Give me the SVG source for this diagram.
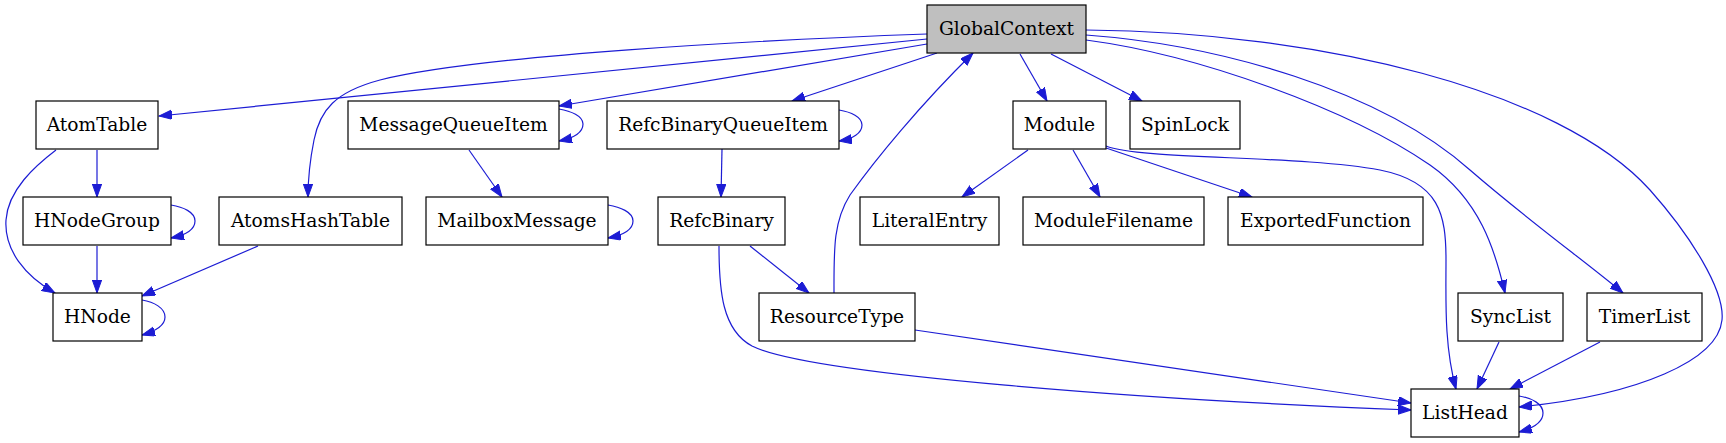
<svg xmlns="http://www.w3.org/2000/svg" width="1726" height="443" viewBox="0 0 1726 443">
<style>
.node rect{fill:#ffffff;stroke:#000000;stroke-width:1.2}
#GlobalContext rect{fill:#bfbfbf}
.node text{font-family:"DejaVu Serif",serif;font-size:18.67px;text-anchor:middle;fill:#000000}
.edges path{fill:none;stroke:#1c1cd4;stroke-width:1.2;marker-end:url(#ah)}
</style>
<defs>
<marker id="ah" markerUnits="userSpaceOnUse" markerWidth="14" markerHeight="10" refX="13" refY="4.67" orient="auto">
<path d="M0,0 L13,4.67 L0,9.33 z" fill="#1c1cd4" stroke="#1c1cd4" stroke-width="1"/>
</marker>
</defs>
<rect x="0" y="0" width="1726" height="443" fill="#ffffff"/>
<g class="edges">
<path d="M927,39 L159,116"/>
<path d="M927,34 C760,40 480,55 380,80 C335,92 320,110 314,140 C310,160 308,175 308,197"/>
<path d="M927,44 L559,106"/>
<path d="M937,53 L792,101"/>
<path d="M1020,54 L1047,101"/>
<path d="M1051,54 L1142,101"/>
<path d="M1086,40 C1200,55 1350,110 1430,165 C1480,200 1495,250 1505,293"/>
<path d="M1086,35 C1220,45 1380,90 1470,170 C1530,222 1590,265 1623,293"/>
<path d="M1086,30 C1320,32 1560,90 1650,190 C1690,235 1725,290 1722,320 C1718,360 1640,395 1519,407"/>
<path d="M1106,146 C1140,160 1300,155 1380,170 C1440,182 1446,215 1446,260 C1446,300 1444,345 1456,389"/>
<path d="M1028,150 L962,197"/>
<path d="M1073,150 L1100,197"/>
<path d="M1106,148 L1252,197"/>
<path d="M1499,342 L1477,389"/>
<path d="M1600,342 L1510,389"/>
<path d="M1519,396 C1532,398 1543,404 1543,413 C1543,422 1534,428 1519,432"/>
<path d="M915,330 L1411,403"/>
<path d="M719,246 C719,290 722,330 752,346 C810,375 1150,400 1411,410"/>
<path d="M750,246 L809,293"/>
<path d="M834,293 C834,250 833,222 850,195 C875,160 920,105 973,53"/>
<path d="M722,149 L721,197"/>
<path d="M839,110 C851,112 862,117 862,125 C862,133 853,139 839,141"/>
<path d="M559,109 C571,111 583,116 583,124 C583,132 574,138 559,141"/>
<path d="M469,150 L502,197"/>
<path d="M608,205 C620,207 633,212 633,221 C633,229 624,235 608,238"/>
<path d="M97,150 L97,197"/>
<path d="M56,150 C35,166 8,190 6,220 C4,250 25,276 55,293"/>
<path d="M171,205 C183,207 195,212 195,221 C195,229 186,235 171,238"/>
<path d="M97,246 L97,293"/>
<path d="M258,246 L142,296"/>
<path d="M142,300 C154,302 165,308 165,317 C165,325 156,331 142,335"/>
</g>
<g id="GlobalContext" class="node"><rect x="927" y="5" width="159" height="48"/><text x="1006.5" y="34.5">GlobalContext</text></g>
<g id="AtomTable" class="node"><rect x="36" y="101" width="122" height="48"/><text x="97" y="130.5">AtomTable</text></g>
<g id="MessageQueueItem" class="node"><rect x="348" y="101" width="211" height="48"/><text x="453.5" y="130.5">MessageQueueItem</text></g>
<g id="RefcBinaryQueueItem" class="node"><rect x="607" y="101" width="232" height="48"/><text x="723" y="130.5">RefcBinaryQueueItem</text></g>
<g id="Module" class="node"><rect x="1013" y="101" width="93" height="48"/><text x="1059.5" y="130.5">Module</text></g>
<g id="SpinLock" class="node"><rect x="1130" y="101" width="110" height="48"/><text x="1185" y="130.5">SpinLock</text></g>
<g id="HNodeGroup" class="node"><rect x="23" y="197" width="148" height="48"/><text x="97" y="226.5">HNodeGroup</text></g>
<g id="AtomsHashTable" class="node"><rect x="219" y="197" width="183" height="48"/><text x="310.5" y="226.5">AtomsHashTable</text></g>
<g id="MailboxMessage" class="node"><rect x="426" y="197" width="182" height="48"/><text x="517" y="226.5">MailboxMessage</text></g>
<g id="RefcBinary" class="node"><rect x="658" y="197" width="127" height="48"/><text x="721.5" y="226.5">RefcBinary</text></g>
<g id="LiteralEntry" class="node"><rect x="860" y="197" width="139" height="48"/><text x="929.5" y="226.5">LiteralEntry</text></g>
<g id="ModuleFilename" class="node"><rect x="1023" y="197" width="181" height="48"/><text x="1113.5" y="226.5">ModuleFilename</text></g>
<g id="ExportedFunction" class="node"><rect x="1228" y="197" width="195" height="48"/><text x="1325.5" y="226.5">ExportedFunction</text></g>
<g id="HNode" class="node"><rect x="53" y="293" width="89" height="48"/><text x="97.5" y="322.5">HNode</text></g>
<g id="ResourceType" class="node"><rect x="759" y="293" width="156" height="48"/><text x="837" y="322.5">ResourceType</text></g>
<g id="SyncList" class="node"><rect x="1458" y="293" width="105" height="48"/><text x="1510.5" y="322.5">SyncList</text></g>
<g id="TimerList" class="node"><rect x="1587" y="293" width="115" height="48"/><text x="1644.5" y="322.5">TimerList</text></g>
<g id="ListHead" class="node"><rect x="1411" y="389" width="108" height="48"/><text x="1465" y="418.5">ListHead</text></g>
</svg>
